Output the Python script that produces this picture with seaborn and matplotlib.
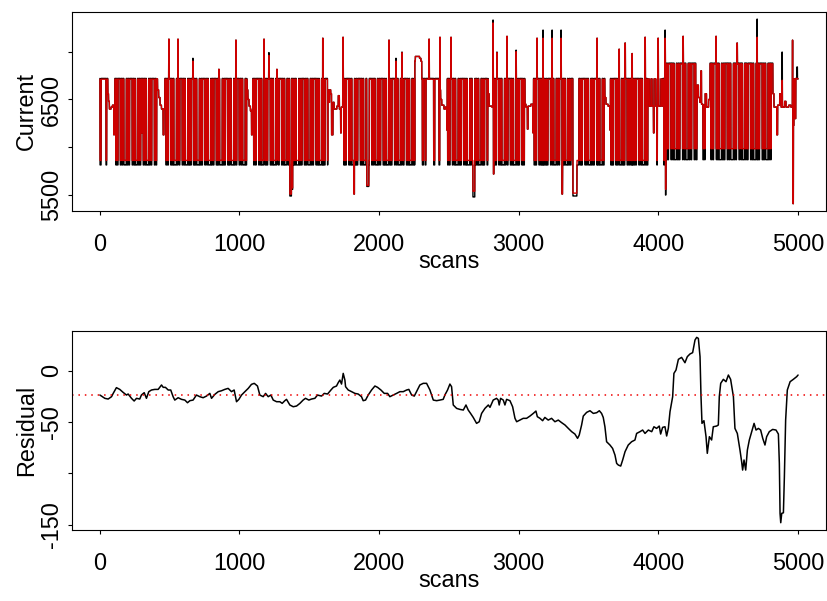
import numpy as np
import pandas as pd
import matplotlib
matplotlib.use("Agg")
import matplotlib.pyplot as plt
import seaborn as sns

# ---------------- data: top panel (current trace, run-length form) ----------------
# state levels (black = observed current, red = fitted)
level_black = {"H": 6720, "L": 5815, "h": 6880, "l": 5870}
level_red = {"H": 6712, "L": 5862, "h": 6872, "l": 5985}

# (start scan, kind, spec). kind "HL"/"hl": alternating dwell lengths (high, low, ...);
# kind "V": explicit "value x length" tokens, "black/red" when they differ
regions = [
    (1, "HL", "1 8 35 5 8"),
    (58, "V", "6560x5 6480x6 6400x12 6420x10 6440x10 6130x3 6420x4"),
    (108, "HL", "7 5 6 5 16 6 7 5 8 17 6 5 7 6 18 5 7 6 5 15 7 5 6 6 17 5 7 5 6 16 6 5 7 5 18 6 7 5 6 8 16 5 7 6"),
    (408, "V", "6715x6 6600x8 6520x10 6440x10 6400x12 6130x6 6400x6"),
    (466, "HL", "8 5 7 6 16 5 6 7 5 18 6 5 8 6 16 5 7 5 6 17 6 7 5 8 15 6 5 7 6 18 5 7 6 5 16 6 8 5 7 17 5 6 7 5 16 6 5 8 6 18 5 7 6 5 16 7 5 6 8 17 5 6 7 5 16 6 8 5 7 17 5 6 7 5 8 16 6 5"),
    (1053, "V", "6600x8 6500x8 6430x10 6380x8 6130x5 6400x4"),
    (1096, "HL", "6 5 8 6 17 5 7 6 5 16 7 5 6 8 18 5 6 7 5 16 6 8 5 6 17 5 7 6 5 15 8 6 5 7 17 6 5 7 6 18 5 8 6 5 16 7 6 5 8 16 6 5 7 6 17 5 6 8 5 16 7 6 5 8 17 6 5 7 6 16 5"),
    (1633, "V", "6600x5 6470x8 6600x8 6560x6 6130x10 6470x8 6400x20 6430x10 6540x8 6400x12 6420x12"),
    (1740, "HL", "7 6 5 8 17 5 6 7 5 16 6 8 5 7 18 5 6 7 6 16 8 5 6 5 17 6 7 5 8 15 5 6 7 6 17 6 5 8 5 16 7 6 5 6 18 5 8 6 7 16 6 5 7 8 17 5 6 7 5 16 6 8 5 7 17 6 5"),
    (2256, "V", "6900x4 6950x30 6930x10 6900x6"),
    (2306, "HL", "4 8 12 6 55 8 30 6"),
    (2435, "V", "6600x6 6500x8 6440x16 6400x10 6420x10"),
    (2485, "HL", "6 5 7 6 16 5 8 6 5 17 6 7 5 6 16 5 8 7 5 18 6 5 7 6 17 5 6 8 5 16 7 6 5 8 17 6 5 7"),
    (2780, "V", "6560x8 6430x20 6420x7"),
    (2815, "HL", "7 5 6 8 16 5 7 6 5 18 6 5 8 7 16 5 6 7 5 17 6 8 5 7 16 5 6 8 5 17"),
    (3044, "V", "6450x8 6420x10 6190x5 6430x20 6450x15"),
    (3102, "HL", "8 5 6 7 17 5 7 6 5 16 6 8 5 7 18 5 6 7 6 16 7 5 8 5 17 6 7 5 6 15 5 8 6 7 17 6 5 7 5 16 8 6 5 6 18 5 7 6 8 16 6 5 7 8 17 5 6 7 5 16 6 8 5 7 17"),
    (3617, "V", "6520x8 6450x15 6430x13"),
    (3653, "HL", "6 7 5 8 16 5 6 7 5 17 6 8 5 6 16 5 7 6 8 18 6 5 7 5 17 6 8 5 6 16 7 5 6 8 17"),
    (3925, "V", "6715x10 6430x12 6715x8 6430x10 6150x4 6715x12 6430x8 5815/5862x4 6715x10 6430x15 6715x8 6430x7"),
    (4033, "HL", "6 4 4"),
    (4047, "hl", "7 5 6 8 17 5 7 6 5 16 6 8 5 7 18 5 6 7 6 16 7 5 8 6 17 5 7 6"),
    (4277, "V", "6650x10 6520x10 6470x8 6800x4 6450x10 5870/5985x6 6440x6 5870/5985x4 6560x10 6420x15 6500x10"),
    (4370, "hl", "6 5 8 7 16 5 6 7 5 17 6 8 5 6 16 5 7 6 8 18 6 5 7 5 17 6 8 5 6 15 7 5 6 8 17 5 6 7 5 16 6 8 5 7 18 6 5 7 8 16 5 6 7 5 17 6 8"),
    (4820, "V", "6560x8 6420x20 6130x6 6440x15 6560x10 6420x25 6480x10 6420x20 6440x15 6420x15"),
    (4960, "V", "7120x2 5920x2 5410x3 6230x4 6715x8 6300x5 6720x8 6840/6720x4 6715x5"),
]

# short excursions: (scan, length, black value, red value)
spike_scan = [494, 559, 666, 852, 974, 1175, 1210, 1268, 1596, 1741, 2070, 2120, 2163, 2357, 2435,
              2514, 2815, 2843, 2915, 2980, 3130, 3173, 3238, 3302, 3560, 3718, 3761, 3811, 3904,
              3997, 4047, 4176, 4412, 4563, 4706, 4885,
              1361, 1378, 1820, 1912, 2672, 2819, 3310, 3388, 4051,
              300, 1270, 1725, 2485, 3102, 3653]
spike_len = [3] * 36 + [12, 4, 4, 15, 14, 3, 4, 29, 3] + [4] * 6
spike_black = [7130, 7130, 6930, 6815, 7120, 7130, 6990, 6815, 7140, 7150, 7120, 6930, 6995, 7130, 7150,
               7150, 7330, 6995, 7160, 7015, 7140, 7225, 7225, 7225, 7140, 7025, 7090, 6980, 7150,
               7140, 7225, 7160, 7160, 7090, 7340, 6995,
               5490, 5560, 5510, 5590, 5480, 5720, 5510, 5490, 5500,
               6150, 6100, 6150, 6180, 6150, 6180]
spike_red = [7130, 7130, 6900, 6815, 7120, 7130, 6960, 6815, 7140, 7150, 7120, 6900, 6990, 7130, 7150,
             7150, 7300, 6990, 7160, 7000, 7140, 7140, 7140, 7140, 7140, 7025, 7090, 6980, 7150,
             7140, 7140, 7160, 7160, 7090, 7150, 6700,
             5510, 5575, 5510, 5600, 5540, 5720, 5510, 5520, 5560,
             6150, 6100, 6150, 6180, 6150, 6180]

# ---------------- data: bottom panel (residual) ----------------
res_scan = [1, 12, 36, 60, 84, 96, 119, 143, 167, 191, 203, 227, 246, 263, 286, 298, 318, 334, 351, 370,
            394, 418, 442, 454, 470, 490, 508, 525, 537, 561, 585, 609, 628, 645, 668, 692, 716, 740,
            764, 788, 800, 824, 848, 872, 895, 919, 943, 962, 979, 996, 1015, 1039, 1063, 1086, 1106,
            1129, 1146, 1170, 1187, 1206, 1225, 1242, 1266, 1289, 1306, 1325, 1337, 1361, 1385, 1409,
            1433, 1456, 1473, 1497, 1516, 1540, 1559, 1588, 1607, 1631, 1655, 1672, 1695, 1707, 1719,
            1731, 1743, 1755, 1760, 1779, 1803, 1827, 1850, 1874, 1886, 1903, 1922, 1946, 1970, 1989,
            2013, 2037, 2061, 2077, 2101, 2125, 2149, 2173, 2197, 2213, 2233, 2252, 2268, 2292, 2316,
            2340, 2364, 2388, 2412, 2435, 2459, 2471, 2490, 2507, 2519, 2531, 2555, 2579, 2603, 2622,
            2638, 2655, 2674, 2698, 2717, 2734, 2758, 2782, 2794, 2817, 2841, 2853, 2860, 2870, 2889,
            2901, 2913, 2937, 2956, 2973, 2985, 3008, 3032, 3056, 3080, 3104, 3123, 3133, 3152, 3171,
            3187, 3211, 3235, 3259, 3283, 3307, 3331, 3355, 3379, 3402, 3421, 3433, 3450, 3462, 3486,
            3510, 3534, 3558, 3577, 3593, 3605, 3617, 3629, 3653, 3672, 3689, 3701, 3713, 3730, 3744,
            3761, 3784, 3808, 3832, 3844, 3868, 3887, 3904, 3928, 3952, 3968, 3987, 4006, 4016, 4030,
            4047, 4059, 4071, 4083, 4102, 4111, 4126, 4143, 4166, 4190, 4207, 4226, 4245, 4262, 4274,
            4286, 4298, 4305, 4312, 4326, 4341, 4350, 4365, 4381, 4393, 4417, 4429, 4436, 4446, 4465,
            4484, 4501, 4517, 4537, 4548, 4565, 4584, 4596, 4603, 4613, 4625, 4637, 4651, 4668, 4685,
            4699, 4716, 4732, 4747, 4763, 4775, 4794, 4818, 4842, 4859, 4866, 4871, 4876, 4883, 4895,
            4902, 4911, 4923, 4943, 4966, 4990, 5000]
res_value = [-23.7, -24.7, -26.9, -27.6, -25.3, -22.1, -16.5, -18.2, -21.1, -23.7, -22.7, -26.9, -29.5,
             -26.9, -27.6, -23.7, -21.4, -26.9, -20.4, -18.8, -18.2, -18.2, -13.9, -16.2, -16.2, -18.8,
             -18.8, -25.3, -28.6, -26.3, -27.9, -28.6, -31.2, -29.2, -28.6, -23.7, -25.3, -26.3, -24.7,
             -22.1, -26.9, -23.0, -20.4, -19.5, -18.2, -17.2, -20.4, -18.8, -30.2, -27.9, -23.7, -20.4,
             -17.2, -13.3, -12.3, -14.9, -23.7, -25.3, -22.1, -25.3, -23.7, -28.6, -30.2, -30.2, -31.8,
             -29.2, -27.9, -33.4, -35.1, -34.4, -31.8, -28.6, -26.9, -28.6, -27.6, -26.9, -23.7, -24.7,
             -22.1, -22.7, -18.8, -16.2, -14.9, -11.7, -9.1, -13.0, -2.6, -9.1, -15.6, -18.8, -20.4,
             -22.1, -22.7, -25.3, -29.2, -28.6, -23.7, -18.8, -14.9, -16.2, -18.8, -22.1, -22.1, -25.3,
             -23.7, -22.1, -20.4, -20.4, -18.8, -18.2, -23.7, -24.7, -20.4, -13.9, -12.3, -12.3, -18.8,
             -28.6, -29.2, -28.6, -27.9, -23.7, -18.8, -13.0, -15.6, -33.4, -36.7, -37.7, -38.3, -33.4,
             -38.3, -41.6, -45.5, -51.3, -49.7, -41.6, -36.7, -33.4, -35.7, -28.6, -26.9, -28.6, -33.4,
             -26.9, -28.6, -33.4, -27.9, -29.2, -35.1, -46.4, -49.7, -48.1, -46.4, -46.4, -44.2, -41.6,
             -39.3, -44.8, -46.4, -48.7, -45.5, -48.1, -46.4, -49.7, -48.1, -50.6, -52.9, -56.2, -59.4,
             -61.7, -65.9, -62.7, -52.9, -44.2, -40.6, -39.0, -41.6, -40.9, -39.0, -41.6, -45.5, -54.6,
             -69.2, -72.4, -75.7, -82.2, -90.3, -91.9, -92.9, -87.0, -78.9, -72.4, -69.2, -67.5, -61.1,
             -59.4, -57.8, -61.1, -57.8, -59.4, -54.6, -56.2, -53.9, -61.7, -55.2, -54.6, -63.6, -56.2,
             -39.9, -25.3, -2.6, 0.7, 11.1, 13.0, 7.8, 13.7, 16.3, 17.6, 29.9, 32.5, 31.5, 13.7, -25.3,
             -51.3, -48.7, -64.3, -80.5, -64.3, -67.5, -54.6, -53.9, -52.9, -25.3, -12.3, -8.4, -10.7,
             -4.2, -8.4, -25.3, -56.2, -61.1, -77.3, -88.7, -96.8, -87.0, -96.8, -77.3, -67.5, -59.4,
             -51.3, -57.8, -56.2, -57.8, -65.9, -72.4, -64.3, -59.4, -57.2, -57.8, -61.7, -90.3, -139.0,
             -148.1, -139.0, -138.4, -103.3, -48.1, -18.8, -10.7, -8.4, -5.8, -4.2]
res_reference = -24.0

x_ticks = [0, 1000, 2000, 3000, 4000, 5000]
top_yticks = [5500, 6000, 6500, 7000]
top_ylabels = ["5500", "", "6500", ""]
bot_yticks = [0, -50, -100, -150]
bot_ylabels = ["0", "-50", "", "-150"]

# ---------------- build the current series ----------------
N = 5000
black = np.full(N, np.nan)
red = np.full(N, np.nan)
starts = [reg[0] for reg in regions] + [N + 1]
for i, (start, kind, spec) in enumerate(regions):
    end = starts[i + 1]
    vb, vr = [], []
    if kind in ("HL", "hl"):
        for j, d in enumerate(spec.split()):
            s = kind[j % 2]
            vb += [level_black[s]] * int(d)
            vr += [level_red[s]] * int(d)
    else:
        for tok in spec.split():
            v, d = tok.split("x")
            if "/" in v:
                b_, r_ = v.split("/")
            else:
                b_ = r_ = v
            vb += [float(b_)] * int(d)
            vr += [float(r_)] * int(d)
    length = end - start
    if len(vb) < length:
        vb += [vb[-1]] * (length - len(vb))
        vr += [vr[-1]] * (length - len(vr))
    black[start - 1:end - 1] = vb[:length]
    red[start - 1:end - 1] = vr[:length]
for s, d, b_, r_ in zip(spike_scan, spike_len, spike_black, spike_red):
    black[s - 1:s - 1 + d] = b_
    red[s - 1:s - 1 + d] = r_

scans = np.arange(1, N + 1)
df_top = pd.DataFrame({"scans": scans, "black": black, "red": red})
df_bot = pd.DataFrame({"scans": res_scan, "Residual": res_value})

# ---------------- plotting ----------------
sns.set_theme(style="white")
plt.rcParams["font.family"] = ["Liberation Sans", "DejaVu Sans"]
plt.rcParams.update({
    "font.size": 16.8,
    "text.color": "black",
    "axes.labelcolor": "black",
    "axes.linewidth": 0.8,
    "axes.edgecolor": "black",
    "xtick.direction": "out",
    "ytick.direction": "out",
    "xtick.major.size": 3.0,
    "ytick.major.size": 3.0,
    "xtick.major.width": 0.8,
    "ytick.major.width": 0.8,
    "xtick.color": "black",
    "ytick.color": "black",
    "xtick.labelcolor": "black",
    "ytick.labelcolor": "black",
    "xtick.labelsize": 16.8,
    "ytick.labelsize": 16.8,
    "axes.labelsize": 16.8,
    "xtick.major.pad": 12.5,
    "ytick.major.pad": 3.6,
    "path.simplify": False,
})

fig = plt.figure(figsize=(8.27, 6.01), dpi=100)
ax1 = fig.add_axes([72 / 827, 1 - 211 / 601, 754 / 827, 199 / 601])
ax2 = fig.add_axes([72 / 827, 1 - 530 / 601, 754 / 827, 199 / 601])

sns.lineplot(data=df_top, x="scans", y="black", ax=ax1, color="black", lw=1.0,
             estimator=None, sort=False)
sns.lineplot(data=df_top, x="scans", y="red", ax=ax1, color="#cc0000", lw=1.0,
             estimator=None, sort=False)
ax1.set_ylim(5333, 7415)
ax1.set_yticks(top_yticks)
ax1.set_yticklabels(top_ylabels)
ax1.set_ylabel("Current", color="black")

sns.lineplot(data=df_bot, x="scans", y="Residual", ax=ax2, color="black", lw=1.1,
             estimator=None, sort=False)
ax2.axhline(res_reference, color="#ee0000", lw=1.1, ls=(0, (1, 3.2)))
ax2.set_ylim(-155.2, 38.7)
ax2.set_yticks(bot_yticks)
ax2.set_yticklabels(bot_ylabels)
ax2.set_ylabel("Residual", color="black")

for ax in (ax1, ax2):
    ax.set_xlim(-199, 5200)
    ax.set_xticks(x_ticks)
    ax.set_xticklabels([str(t) for t in x_ticks])
    ax.set_xlabel("scans", color="black")
    for sp in ax.spines.values():
        sp.set_visible(True)
        sp.set_color("black")
        sp.set_linewidth(0.8)
    ax.tick_params(axis="both", which="major", bottom=True, left=True, top=False, right=False)
    for lab in ax.get_yticklabels():
        lab.set_rotation(90)
        lab.set_va("center")
        lab.set_ha("right")
    ax.xaxis.set_label_coords(0.5, -0.196)
    ax.yaxis.set_label_coords(-0.0451, 0.5)
    ax.grid(False)

fig.savefig("out.png", dpi=100)
